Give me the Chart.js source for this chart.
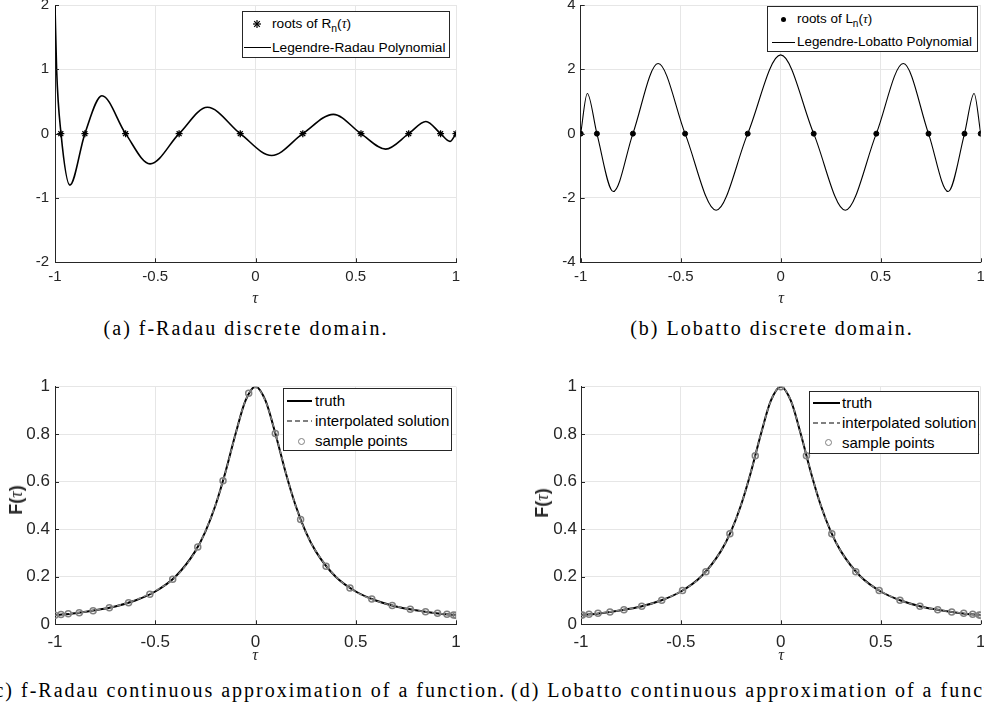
<!DOCTYPE html>
<html>
<head>
<meta charset="utf-8">
<script src="https://cdn.jsdelivr.net/npm/chart.js@4.4.1/dist/chart.umd.min.js"></script>
<style>
html, body { margin:0; padding:0; width:984px; height:709px; overflow:hidden; background:#fff; position:relative; }
canvas { position:absolute; }
.lg { position:absolute; background:#fff; border:1px solid #262626; box-sizing:border-box; }
.t { position:absolute; font-family:'Liberation Sans', Arial, sans-serif; color:#000; white-space:nowrap; line-height:18px; }
.t sub { font-size:75%; vertical-align:-4px; line-height:0; }
.t i, .tau i { font-family:'Liberation Serif', serif; }
.ln { position:absolute; height:0; }
.cap { position:absolute; font-family:'Liberation Serif', 'Times New Roman', serif; font-size:20px; letter-spacing:2px; white-space:nowrap; color:#000; line-height:24px; }
.tau { position:absolute; width:20px; text-align:center; font-family:'Liberation Serif', serif; font-style:italic; font-size:16px; color:#262626; line-height:18px; }
.fl { position:absolute; font-family:'Liberation Sans', Arial, sans-serif; font-weight:bold; font-size:18px; color:#262626; white-space:nowrap; transform:translate(-50%,-50%) rotate(-90deg); line-height:20px; }
</style>
</head>
<body>
<canvas id="chartA" width="480" height="300" style="left:0px;top:-10px"></canvas>
<canvas id="chartB" width="510" height="300" style="left:490px;top:-10px"></canvas>
<canvas id="chartC" width="480" height="290" style="left:0px;top:360px"></canvas>
<canvas id="chartD" width="510" height="290" style="left:490px;top:360px"></canvas>

<!-- legend (a) -->
<div class="lg" style="left:242px;top:11px;width:208px;height:47px"></div>
<svg style="position:absolute;left:252.7px;top:19.5px" width="8" height="8"><g stroke="#000" stroke-width="1.2"><line x1="0" y1="4" x2="8" y2="4"/><line x1="4" y1="0" x2="4" y2="8"/><line x1="1.2" y1="1.2" x2="6.8" y2="6.8"/><line x1="6.8" y1="1.2" x2="1.2" y2="6.8"/></g></svg>
<div class="t" style="left:272px;top:14.5px;font-size:13.7px">roots of R<sub>n</sub>(<i>τ</i>)</div>
<div class="ln" style="left:243.5px;top:47px;width:27px;border-top:1.5px solid #000"></div>
<div class="t" style="left:272px;top:38.5px;font-size:13.7px">Legendre-Radau Polynomial</div>

<!-- legend (b) -->
<div class="lg" style="left:767px;top:6px;width:211px;height:46px"></div>
<div style="position:absolute;left:780.8px;top:16.8px;width:5px;height:5px;border-radius:50%;background:#000"></div>
<div class="t" style="left:797px;top:10.3px;font-size:13.4px">roots of L<sub>n</sub>(<i>τ</i>)</div>
<div class="ln" style="left:771.7px;top:41.8px;width:23.3px;border-top:1px solid #000"></div>
<div class="t" style="left:797px;top:33.3px;font-size:13.4px">Legendre-Lobatto Polynomial</div>

<!-- legend (c) -->
<div class="lg" style="left:283px;top:388px;width:169px;height:63px"></div>
<div class="ln" style="left:286.7px;top:400px;width:25.6px;border-top:2px solid #000"></div>
<div class="t" style="left:315px;top:392px;font-size:15px">truth</div>
<div style="position:absolute;left:286.7px;top:420.3px;width:25.6px;height:1.5px;background:repeating-linear-gradient(90deg,#808080 0 5px,transparent 5px 8px)"></div>
<div class="t" style="left:315px;top:412px;font-size:15px">interpolated solution</div>
<div style="position:absolute;left:297.5px;top:437.5px;width:7px;height:7px;border:1.5px solid #808080;border-radius:50%;box-sizing:border-box"></div>
<div class="t" style="left:315px;top:432px;font-size:15px">sample points</div>

<!-- legend (d) -->
<div class="lg" style="left:809px;top:391px;width:170px;height:63px"></div>
<div class="ln" style="left:813.3px;top:402.3px;width:26.7px;border-top:2px solid #000"></div>
<div class="t" style="left:842px;top:394.3px;font-size:15px">truth</div>
<div style="position:absolute;left:813.3px;top:422px;width:26.7px;height:1.5px;background:repeating-linear-gradient(90deg,#808080 0 5px,transparent 5px 8px)"></div>
<div class="t" style="left:842px;top:413.7px;font-size:15px">interpolated solution</div>
<div style="position:absolute;left:824.8px;top:439.2px;width:7px;height:7px;border:1.5px solid #808080;border-radius:50%;box-sizing:border-box"></div>
<div class="t" style="left:842px;top:433.7px;font-size:15px">sample points</div>

<!-- axis labels -->
<div class="tau" style="left:245px;top:288.7px"><i>τ</i></div>
<div class="tau" style="left:771px;top:288.7px"><i>τ</i></div>
<div class="tau" style="left:245px;top:646px"><i>τ</i></div>
<div class="tau" style="left:771px;top:646px"><i>τ</i></div>
<div class="fl" style="left:15.5px;top:500px">F(<i style="font-family:'Liberation Serif',serif;font-weight:normal">τ</i>)</div>
<div class="fl" style="left:541.7px;top:503px">F(<i style="font-family:'Liberation Serif',serif;font-weight:normal">τ</i>)</div>

<!-- captions -->
<div class="cap" style="left:-54px;width:600px;text-align:center;top:316px">(a) f-Radau discrete domain.</div>
<div class="cap" style="left:472px;width:600px;text-align:center;top:316px">(b) Lobatto discrete domain.</div>
<div class="cap" style="left:-300px;width:806px;text-align:right;top:678px">(c) f-Radau continuous approximation of a function.</div>
<div class="cap" style="left:511px;top:678px">(d) Lobatto continuous approximation of a function.</div>

<script>
// tick positions
const xTicks = [-1, -0.5, 0, 0.5, 1];
const yTicksA = [-2, -1, 0, 1, 2];
const yTicksB = [-4, -2, 0, 2, 4];
const yTicksF = [0, 0.2, 0.4, 0.6, 0.8, 1];

// (a) f-Radau: roots and polynomial curve
const radauRoots = [-0.971, -0.851, -0.648, -0.381, -0.076, 0.236, 0.526, 0.764, 0.923, 1];
const radauRootVal = [0, 0, 0, 0, 0, 0, 0, 0, 0, 0];
const radauCurveTau = [-1, -0.992, -0.970, -0.926, -0.851, -0.766, -0.648, -0.526, -0.381, -0.240, -0.076, 0.081, 0.236, 0.388, 0.526, 0.649, 0.764, 0.850, 0.923, 0.970, 1];
const radauCurveVal = [2.0, 1.0, 0, -0.80, 0, 0.59, 0, -0.47, 0, 0.41, 0, -0.34, 0, 0.30, 0, -0.24, 0, 0.19, 0, -0.12, 0];

// (b) Lobatto
const lobattoRoots = [-1, -0.919, -0.739, -0.478, -0.165, 0.165, 0.478, 0.739, 0.919, 1];
const lobattoRootVal = [0, 0, 0, 0, 0, 0, 0, 0, 0, 0];
const lobattoCurveTau = [-1, -0.967, -0.919, -0.837, -0.739, -0.613, -0.478, -0.323, -0.165, 0, 0.165, 0.323, 0.478, 0.613, 0.739, 0.837, 0.919, 0.967, 1];
const lobattoCurveVal = [0, 1.25, 0, -1.80, 0, 2.18, 0, -2.38, 0, 2.45, 0, -2.38, 0, 2.18, 0, -1.80, 0, 1.25, 0];

// (c)/(d) function approximation
const truthTau = [-1, -0.9, -0.8, -0.7, -0.6, -0.5, -0.4, -0.3, -0.25, -0.2, -0.15, -0.1, -0.05, 0, 0.05, 0.1, 0.15, 0.2, 0.25, 0.3, 0.4, 0.5, 0.6, 0.7, 0.8, 0.9, 1];
const truthVal = [0.038, 0.047, 0.059, 0.075, 0.100, 0.138, 0.200, 0.308, 0.390, 0.500, 0.640, 0.800, 0.941, 1.0, 0.941, 0.800, 0.640, 0.500, 0.390, 0.308, 0.200, 0.138, 0.100, 0.075, 0.059, 0.047, 0.038];
const radauInterpVal = [0.038, 0.047, 0.059, 0.076, 0.102, 0.141, 0.198, 0.306, 0.392, 0.502, 0.638, 0.798, 0.942, 0.997, 0.939, 0.802, 0.642, 0.498, 0.388, 0.309, 0.201, 0.137, 0.099, 0.076, 0.059, 0.047, 0.038];
const lobattoInterpVal = [0.038, 0.047, 0.059, 0.075, 0.100, 0.139, 0.199, 0.308, 0.391, 0.500, 0.641, 0.800, 0.941, 1.0, 0.941, 0.800, 0.641, 0.500, 0.391, 0.308, 0.199, 0.139, 0.100, 0.075, 0.059, 0.047, 0.038];

const radauSampleTau = [-1, -0.970, -0.934, -0.879, -0.810, -0.729, -0.633, -0.527, -0.413, -0.288, -0.162, -0.034, 0.099, 0.225, 0.352, 0.471, 0.580, 0.682, 0.772, 0.848, 0.908, 0.955, 0.988, 1];
const radauSampleVal = [0.038, 0.041, 0.044, 0.049, 0.057, 0.070, 0.091, 0.126, 0.190, 0.325, 0.604, 0.972, 0.803, 0.441, 0.244, 0.153, 0.106, 0.079, 0.063, 0.053, 0.046, 0.042, 0.039, 0.038];
const lobattoSampleTau = [-1, -0.993, -0.960, -0.915, -0.855, -0.785, -0.696, -0.596, -0.492, -0.375, -0.255, -0.128, 0, 0.128, 0.255, 0.375, 0.492, 0.596, 0.696, 0.785, 0.855, 0.915, 0.960, 0.993, 1];
const lobattoSampleVal = [0.038, 0.039, 0.042, 0.046, 0.052, 0.061, 0.076, 0.101, 0.142, 0.221, 0.381, 0.709, 1.0, 0.709, 0.381, 0.221, 0.142, 0.101, 0.076, 0.061, 0.052, 0.046, 0.042, 0.039, 0.038];

Chart.defaults.font.family = "'Liberation Sans', Arial, Helvetica, sans-serif";
Chart.defaults.color = '#262626';

const pts = (xs, ys) => xs.map((x, i) => ({ x, y: ys[i] }));
const plain = v => String(v);

// matlab-style inward tick marks
const innerTicks = {
  id: 'innerTicks',
  afterDraw(chart) {
    const ctx = chart.ctx, a = chart.chartArea, xs = chart.scales.x, ys = chart.scales.y;
    ctx.save();
    ctx.strokeStyle = '#262626';
    ctx.lineWidth = 1;
    ctx.beginPath();
    xs.ticks.forEach(t => { const p = Math.round(xs.getPixelForValue(t.value)) + 0.5; ctx.moveTo(p, a.bottom); ctx.lineTo(p, a.bottom - 4); });
    ys.ticks.forEach(t => { const p = Math.round(ys.getPixelForValue(t.value)) + 0.5; ctx.moveTo(a.left, p); ctx.lineTo(a.left + 4, p); });
    ctx.stroke();
    ctx.restore();
  }
};

function panel(id, datasets, o) {
  return new Chart(document.getElementById(id), {
    type: 'line',
    data: { datasets },
    options: {
      responsive: false, animation: false, events: [],
      layout: { padding: { top: o.top, right: o.right, left: 0, bottom: 0 } },
      plugins: { legend: { display: false }, tooltip: { enabled: false } },
      scales: {
        x: {
          type: 'linear', min: -1, max: 1,
          afterBuildTicks: s => { s.ticks = xTicks.map(v => ({ value: v })); },
          afterFit: s => { s.height = o.xh; },
          grid: { color: '#e6e6e6', drawTicks: false },
          border: { color: '#262626' },
          ticks: { font: { size: o.fs }, padding: o.xpad, maxRotation: 0, autoSkip: false, color: '#262626', callback: plain }
        },
        y: {
          type: 'linear', min: o.ymin, max: o.ymax,
          afterBuildTicks: s => { s.ticks = o.yt.map(v => ({ value: v })); },
          afterFit: s => { s.width = o.yw; },
          grid: { color: '#e6e6e6', drawTicks: false },
          border: { color: '#262626' },
          ticks: { font: { size: o.fs }, padding: o.ypad, autoSkip: false, color: '#262626', callback: plain }
        }
      }
    },
    plugins: [innerTicks]
  });
}

const curve = (data, color, width, dash) => ({
  data, borderColor: color, borderWidth: width, borderDash: dash || [],
  pointRadius: 0, fill: false, cubicInterpolationMode: 'monotone'
});
const marks = (data, style, r, fillC, lineC, w) => ({
  data, showLine: false, pointStyle: style, pointRadius: r,
  pointBackgroundColor: fillC, pointBorderColor: lineC, pointBorderWidth: w
});

panel('chartA', [
  marks(pts(radauRoots, radauRootVal), 'star', 3.5, '#000', '#000', 1.3),
  curve(pts(radauCurveTau, radauCurveVal), '#000', 1.6)
], { top: 15, right: 24, xh: 27.7, yw: 55, fs: 15, xpad: 6, ypad: 6, ymin: -2, ymax: 2, yt: yTicksA });

panel('chartB', [
  marks(pts(lobattoRoots, lobattoRootVal), 'circle', 2.5, '#000', '#000', 1),
  curve(pts(lobattoCurveTau, lobattoCurveVal), '#000', 1.1)
], { top: 15, right: 19.3, xh: 27.7, yw: 90.7, fs: 15, xpad: 6, ypad: 5, ymin: -4, ymax: 4, yt: yTicksB });

panel('chartC', [
  marks(pts(radauSampleTau, radauSampleVal), 'circle', 3, 'rgba(0,0,0,0)', '#808080', 1.5),
  curve(pts(truthTau, radauInterpVal), '#808080', 1.5, [4, 3]),
  curve(pts(truthTau, truthVal), '#000', 2)
], { top: 26.7, right: 24, xh: 25.7, yw: 55, fs: 17, xpad: 8, ypad: 5, ymin: 0, ymax: 1, yt: yTicksF });

panel('chartD', [
  marks(pts(lobattoSampleTau, lobattoSampleVal), 'circle', 3, 'rgba(0,0,0,0)', '#808080', 1.5),
  curve(pts(truthTau, lobattoInterpVal), '#808080', 1.5, [4, 3]),
  curve(pts(truthTau, truthVal), '#000', 2)
], { top: 26.7, right: 19.3, xh: 25.7, yw: 91, fs: 17, xpad: 8, ypad: 4, ymin: 0, ymax: 1, yt: yTicksF });
</script>
</body>
</html>
